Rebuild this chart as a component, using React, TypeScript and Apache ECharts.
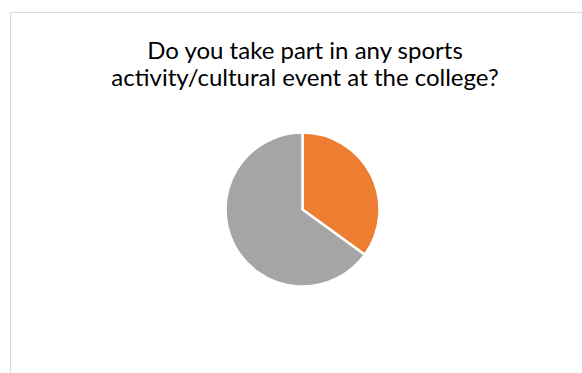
import React, { useEffect, useRef } from "react";
import * as echarts from "echarts";

const titleLines = ["Do you take part in any sports", "activity/cultural event at the college?"];
const categories = ["Yes", "No"];
const values = [35, 65];
const colors = ["#ED7D31", "#A5A5A5"];

export default function App() {
  const ref = useRef<HTMLDivElement>(null);
  useEffect(() => {
    if (!ref.current) return;
    const chart = echarts.init(ref.current, null, { renderer: "svg" });
    chart.setOption({
      animation: false,
      backgroundColor: "#ffffff",
      graphic: [
        {
          type: "rect",
          shape: { x: 10.5, y: 12.5, width: 700, height: 500 },
          style: { fill: "none", stroke: "#d9d9d9", lineWidth: 1 },
          silent: true,
        },
      ],
      title: {
        text: titleLines.join("\n"),
        left: 300,
        textAlign: "center",
        top: 31,
        textStyle: {
          fontFamily: "Lato",
          fontSize: 24,
          fontWeight: "normal",
          color: "#000000",
          lineHeight: 27,
        },
      },
      series: [
        {
          type: "pie",
          center: [302.5, 209.5],
          radius: 77,
          startAngle: 90,
          clockwise: true,
          label: { show: false },
          labelLine: { show: false },
          itemStyle: { borderColor: "#ffffff", borderWidth: 2.5 },
          emphasis: { disabled: true },
          data: categories.map((c, i) => ({
            name: c,
            value: values[i],
            itemStyle: { color: colors[i] },
          })),
        },
      ],
    });
    return () => chart.dispose();
  }, []);
  return (
    <div
      ref={ref}
      style={{ position: "fixed", left: 0, top: 0, width: 582, height: 373 }}
    />
  );
}
